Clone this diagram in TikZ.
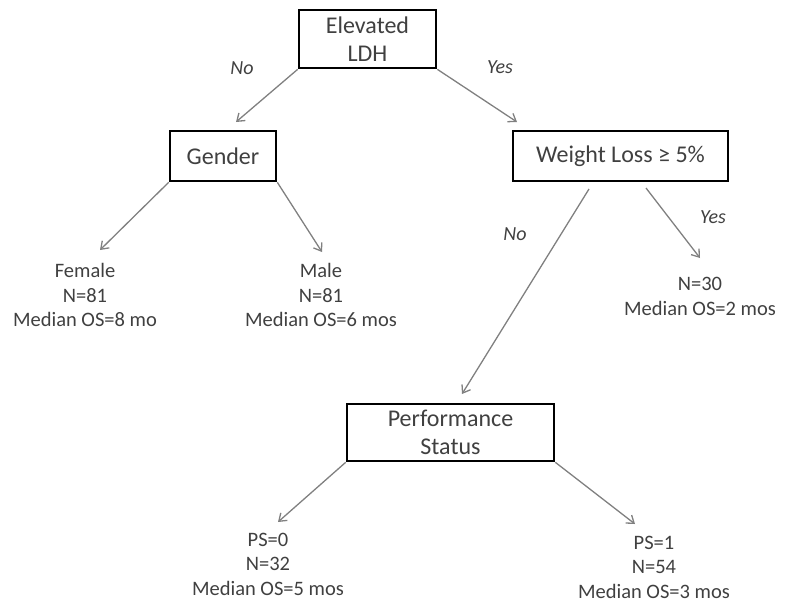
\documentclass[tikz,border=0pt]{standalone}
\usepackage{fontspec}
\setmainfont{Carlito}
\usetikzlibrary{arrows.meta}
\definecolor{txt}{HTML}{404040}
\definecolor{arr}{HTML}{808080}
\tikzset{
  box/.style={draw=black, line width=2.6pt, fill=white, text=txt, align=center, inner sep=0pt,
    font=\fontsize{24}{28}\selectfont},
  leaf/.style={text=txt, align=center, inner sep=0pt, font=\fontsize{20.5}{24.5}\selectfont},
  lab/.style={text=txt, inner sep=0pt, font=\fontsize{20}{24}\selectfont\itshape},
  conn/.style={draw=arr, line width=1.3pt, -{Straight Barb[length=7pt,width=10pt,line width=1.3pt]}}
}
\begin{document}
\begin{tikzpicture}[x=1pt,y=-1pt]
\useasboundingbox (0,0) rectangle (811,606);
% boxes
\node[box, minimum width=137pt, minimum height=58pt] (ldh) at (367.5,39) {Elevated\\LDH};
\node[box, minimum width=106pt, minimum height=50pt] (gender) at (223,156) {Gender};
\node[box, minimum width=215pt, minimum height=50pt] (weight) at (620.5,156) {Weight Loss ≥ 5\%};
\node[box, minimum width=207pt, minimum height=57pt] (perf) at (450.5,432.5) {Performance\\Status};
% leaves
\node[leaf] (female) at (85,295) {Female\\N=81\\Median OS=8 mo};
\node[leaf] (male) at (321,295) {Male\\N=81\\Median OS=6 mos};
\node[leaf] (n30) at (700,296.5) {N=30\\Median OS=2 mos};
\node[leaf] (ps0) at (268,564) {PS=0\\N=32\\Median OS=5 mos};
\node[leaf] (ps1) at (654,567) {PS=1\\N=54\\Median OS=3 mos};
% labels
\node[lab] (l1) at (242,68) {No};
\node[lab] (l2) at (500,67) {Yes};
\node[lab] (l3) at (515,234) {No};
\node[lab] (l4) at (713,217) {Yes};
% connector end points
\coordinate (tg) at (236,122);
\coordinate (tw) at (517,122);
\coordinate (tf) at (100,250);
\coordinate (tm) at (322,252);
\coordinate (sw1) at (589,189);
\coordinate (sw2) at (646,188);
\coordinate (tp) at (462,394);
\coordinate (tn) at (700,258);
\coordinate (t0) at (278,522);
\coordinate (t1) at (635,524);
% connectors
\draw[conn] (ldh.south west) -- (tg);
\draw[conn] (ldh.south east) -- (tw);
\draw[conn] (gender.south west) -- (tf);
\draw[conn] (gender.south east) -- (tm);
\draw[conn] (sw1) -- (tp);
\draw[conn] (sw2) -- (tn);
\draw[conn] (perf.south west) -- (t0);
\draw[conn] (perf.south east) -- (t1);
\end{tikzpicture}
\end{document}
